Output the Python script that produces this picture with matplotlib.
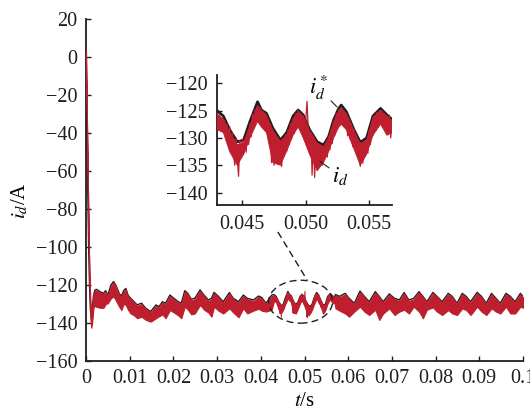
import numpy as np
import matplotlib.pyplot as plt
from matplotlib.patches import Ellipse

plt.rcParams['font.family'] = 'Liberation Serif'
plt.rcParams['mathtext.fontset'] = 'stix'

# key samples (time in s, current in A)
t_key = [0.0000, 0.0002, 0.0004, 0.0006, 0.0008, 0.0010, 0.0012, 0.0014, 0.0017, 0.0020,
         0.0024, 0.0032, 0.0040, 0.0045, 0.0050, 0.0057, 0.0063, 0.0068, 0.0076, 0.0081,
         0.0086, 0.0091, 0.0096, 0.0102, 0.0110, 0.0117, 0.0127, 0.0137, 0.0148, 0.0160,
         0.0167, 0.0175, 0.0182, 0.0192, 0.0201, 0.0211, 0.0218, 0.0226, 0.0233, 0.0241,
         0.0249, 0.0261, 0.0270, 0.0280, 0.0287, 0.0293, 0.0303, 0.0314, 0.0328, 0.0337,
         0.0349, 0.0360, 0.0369, 0.0383, 0.0395, 0.0402, 0.0412, 0.0425,
         0.0430, 0.0435, 0.0440, 0.0446, 0.0451, 0.0456, 0.0462, 0.0465, 0.0469, 0.0474,
         0.0480, 0.0485, 0.0490, 0.0494, 0.0498, 0.0503, 0.0509, 0.0514, 0.0518, 0.0522,
         0.0526, 0.0528, 0.0532, 0.0538, 0.0543, 0.0548, 0.0553, 0.0559, 0.0564, 0.0568,
         0.0571, 0.0580, 0.0593, 0.0602, 0.0614, 0.0627, 0.0637, 0.0648, 0.0662, 0.0671,
         0.0680, 0.0694, 0.0706, 0.0717, 0.0728, 0.0739, 0.0750, 0.0762, 0.0771, 0.0780,
         0.0794, 0.0803, 0.0815, 0.0829, 0.0838, 0.0849, 0.0861, 0.0870, 0.0880, 0.0895,
         0.0905, 0.0916, 0.0928, 0.0938, 0.0948, 0.0961, 0.0971, 0.0982, 0.0994, 0.1000]

# reference current i_d* (black)
id_ref = [0.0, -35.0, -70.0, -100.0, -120.0, -133.0, -137.0, -133.0, -126.0, -122.8,
          -122.3, -123.5, -124.4, -123.0, -125.3, -120.0, -118.2, -120.0, -124.4, -126.0,
          -123.0, -121.8, -125.3, -127.0, -128.8, -130.5, -129.6, -132.3, -134.0, -130.5,
          -131.4, -128.8, -129.6, -125.3, -127.0, -128.8, -129.6, -123.0, -124.4, -127.5,
          -127.0, -122.6, -125.3, -127.9, -127.0, -123.9, -126.0, -128.8, -124.0, -127.0,
          -128.8, -125.3, -127.0, -127.9, -125.8, -126.6, -129.6, -125.3,
          -125.0, -126.0, -128.5, -130.7, -130.4, -127.0, -123.4, -124.9, -125.5, -128.2,
          -130.4, -129.0, -126.0, -124.9, -125.8, -128.5, -130.7, -131.3, -129.8, -126.7,
          -124.6, -124.0, -125.2, -128.5, -130.8, -130.0, -126.0, -124.6, -125.8, -126.7,
          -125.0, -126.0, -124.4, -127.0, -129.6, -123.2, -126.0, -128.8, -123.5, -126.0,
          -128.8, -124.7, -127.0, -127.9, -124.0, -127.9, -127.0, -123.5, -126.0, -128.8,
          -123.9, -126.0, -128.8, -124.4, -126.0, -129.6, -124.4, -126.0, -128.8, -123.9,
          -126.0, -129.6, -124.4, -127.0, -129.6, -124.4, -126.0, -128.8, -124.4, -126.0]

# measured current i_d (red): upper and lower edge of the band
id_hi = [3.0, -30.0, -62.0, -92.0, -116.0, -128.0, -134.0, -132.0, -125.0, -123.3,
         -122.8, -124.0, -124.9, -123.5, -125.8, -120.5, -118.7, -120.5, -124.9, -126.5,
         -123.5, -122.3, -125.8, -127.5, -129.3, -131.0, -130.1, -132.8, -134.5, -131.0,
         -131.9, -129.3, -130.1, -125.8, -127.5, -129.3, -130.1, -123.5, -124.9, -128.0,
         -127.5, -123.1, -125.8, -128.4, -127.5, -124.4, -126.5, -129.3, -124.5, -127.5,
         -129.3, -125.8, -127.5, -128.4, -126.3, -127.1, -130.1, -125.8,
         -125.6, -126.6, -129.0, -131.2, -131.0, -127.6, -124.1, -125.0, -125.8, -128.6,
         -130.6, -129.4, -126.5, -125.2, -126.0, -128.6, -130.9, -131.6, -129.9, -127.0,
         -125.0, -124.6, -125.5, -128.6, -131.0, -130.4, -126.2, -125.0, -126.0, -126.9,
         -125.5, -126.5, -124.9, -127.5, -130.1, -123.7, -126.5, -129.3, -124.0, -126.5,
         -129.3, -125.2, -127.5, -128.4, -124.5, -128.4, -127.5, -124.0, -126.5, -129.3,
         -124.4, -126.5, -129.3, -124.9, -126.5, -130.1, -124.9, -126.5, -129.3, -124.4,
         -126.5, -130.1, -124.9, -127.5, -130.1, -124.9, -126.5, -129.3, -124.9, -126.5]

id_lo = [0.0, -32.0, -64.0, -95.0, -120.0, -138.0, -142.5, -140.0, -132.0, -131.0,
         -131.5, -132.0, -132.0, -130.0, -129.6, -127.0, -126.0, -128.0, -131.5, -133.2,
         -130.0, -130.5, -133.0, -135.0, -136.0, -137.5, -136.7, -138.4, -139.3, -137.5,
         -136.5, -135.5, -137.5, -133.2, -134.5, -136.0, -137.5, -131.4, -133.0, -135.5,
         -135.0, -130.5, -133.0, -134.5, -136.7, -131.4, -133.5, -135.0, -132.3, -134.5,
         -137.0, -132.3, -135.0, -133.5, -132.5, -133.5, -134.0, -133.0,
         -128.5, -129.0, -132.5, -135.0, -133.0, -130.0, -127.0, -128.0, -129.0, -134.5,
         -135.0, -132.4, -129.5, -128.0, -130.0, -133.0, -136.0, -134.5, -132.5, -130.0,
         -128.0, -127.5, -128.5, -132.0, -135.0, -133.0, -129.5, -127.5, -129.5, -129.0,
         -132.3, -133.5, -135.0, -136.7, -134.0, -131.4, -134.0, -135.8, -133.0, -138.4,
         -135.0, -132.3, -135.8, -134.0, -133.0, -135.0, -131.4, -134.0, -137.5, -133.0,
         -131.8, -134.0, -135.8, -133.2, -135.0, -135.8, -132.3, -133.2, -135.8, -131.4,
         -134.0, -135.8, -132.3, -134.0, -135.0, -131.4, -135.0, -135.0, -131.4, -132.0]

# measured current i_d inside the zoomed window, every 0.1 ms from 0.0430 s to 0.0570 s
t_fine = np.round(np.linspace(0.0430, 0.0570, 141), 4)
id_fine = [-125.5, -127.8, -125.8, -128.5, -126.4, -129.0, -126.8, -128.6, -127.5, -130.4,
           -127.9, -131.8, -129.0, -132.5, -135.0, -130.0, -133.4, -137.0, -130.5, -132.8,
           -130.2, -133.0, -130.0, -132.6, -129.0, -131.2, -127.4, -129.8, -125.6, -128.2,
           -124.8, -127.0, -124.1, -126.8, -124.5, -127.5, -125.0, -128.3, -125.5, -128.8,
           -126.8, -130.0, -127.5, -134.5, -128.4, -135.0, -129.2, -132.5, -130.0, -133.8,
           -130.6, -135.2, -130.2, -133.0, -129.4, -132.4, -128.6, -131.2, -127.4, -130.0,
           -126.5, -129.2, -125.6, -128.0, -124.9, -127.8, -125.6, -129.0, -126.0, -130.2,
           -126.8, -123.3, -128.6, -132.0, -129.0, -136.8, -129.8, -137.2, -130.6, -134.0,
           -131.2, -133.8, -131.5, -135.0, -131.6, -133.2, -131.0, -133.5, -129.8, -132.2,
           -128.4, -131.0, -127.0, -129.5, -125.5, -128.2, -124.9, -127.6, -124.6, -127.4,
           -125.0, -128.0, -125.6, -129.6, -126.4, -130.2, -127.4, -131.6, -128.5, -132.0,
           -129.6, -133.4, -130.8, -135.2, -131.0, -134.6, -130.8, -133.0, -130.4, -132.8,
           -128.6, -131.2, -127.0, -129.6, -126.2, -128.4, -125.4, -127.8, -125.0, -126.8,
           -125.0, -127.6, -125.6, -128.8, -126.0, -129.4, -125.8, -130.0, -126.6, -128.4,
           -127.0]

x_ticks = [0, 0.01, 0.02, 0.03, 0.04, 0.05, 0.06, 0.07, 0.08, 0.09, 0.1]
x_ticklabels = ['0', '0.01', '0.02', '0.03', '0.04', '0.05', '0.06', '0.07', '0.08', '0.09', '0.1']
y_ticks = [-160, -140, -120, -100, -80, -60, -40, -20, 0, 20]
inset_x_ticks = [0.045, 0.050, 0.055]
inset_x_ticklabels = ['0.045', '0.050', '0.055']
inset_y_ticks = [-140, -135, -130, -125, -120]

RED = '#BE1E2D'
BLACK = '#1E1E1E'


def style_axes(ax, fs, pad):
    ax.spines['top'].set_visible(False)
    ax.spines['right'].set_visible(False)
    for s in ('left', 'bottom'):
        ax.spines[s].set_linewidth(1.3)
        ax.spines[s].set_color(BLACK)
    ax.tick_params(direction='in', length=3.5, width=1.0, labelsize=fs, pad=pad, colors=BLACK)


fig = plt.figure(figsize=(5.3, 4.11), dpi=100)

# main axes
ax = fig.add_axes([0.1623, 0.1217, 0.8245, 0.8321])
ax.plot(t_key, id_ref, color=BLACK, lw=1.0, zorder=2)
ax.fill_between(t_key, id_lo, id_hi, color=RED, lw=0.8, zorder=3)
ax.plot(t_fine, id_fine, color=RED, lw=0.7, zorder=3)
ax.set_xlim(0, 0.1)
ax.set_ylim(-160, 20)
ax.set_xticks(x_ticks)
ax.set_xticklabels(x_ticklabels)
ax.set_yticks(y_ticks)
style_axes(ax, 14.5, 6)
ax.set_xlabel(r'$t$/s', fontsize=15, labelpad=2.5)
ax.set_ylabel(r'$i_d$/A', fontsize=15)
ax.yaxis.set_label_coords(-0.128, 0.47)

# dashed ellipse marking the zoomed region + leader line
ax.add_patch(Ellipse((0.0491, -128.8), width=0.01465, height=22.6, fill=False,
                     ec=BLACK, lw=1.0, ls=(0, (5, 3)), zorder=4))
ax.plot([0.0439, 0.0506], [-92.1, -117.4], color=BLACK, lw=1.0, ls=(0, (5, 3)), zorder=4)

# inset
ax_in = fig.add_axes([0.4094, 0.5012, 0.3302, 0.3163])
ax_in.set_facecolor('white')
ax_in.plot(t_key, id_ref, color=BLACK, lw=2.0, zorder=2)
ax_in.fill_between(t_key, id_lo, id_hi, color=RED, lw=0.6, zorder=3)
ax_in.plot(t_fine, id_fine, color=RED, lw=0.9, zorder=3)
ax_in.set_xlim(0.0430, 0.0568)
ax_in.set_ylim(-142.25, -118.5)
ax_in.set_xticks(inset_x_ticks)
ax_in.set_xticklabels(inset_x_ticklabels)
ax_in.set_yticks(inset_y_ticks)
style_axes(ax_in, 14.5, 7)

arrow = dict(arrowstyle='-', lw=0.8, color=BLACK, shrinkA=0, shrinkB=0)
ax_in.annotate(r'$i_d^*$', xy=(0.05245, -124.3), xytext=(0.0510, -120.9),
               fontsize=16, ha='center', va='center', arrowprops=arrow)
ax_in.annotate(r'$i_d$', xy=(0.05113, -134.3), xytext=(0.0527, -136.9),
               fontsize=16, ha='center', va='center', arrowprops=arrow)

fig.savefig('out.png', dpi=100)
